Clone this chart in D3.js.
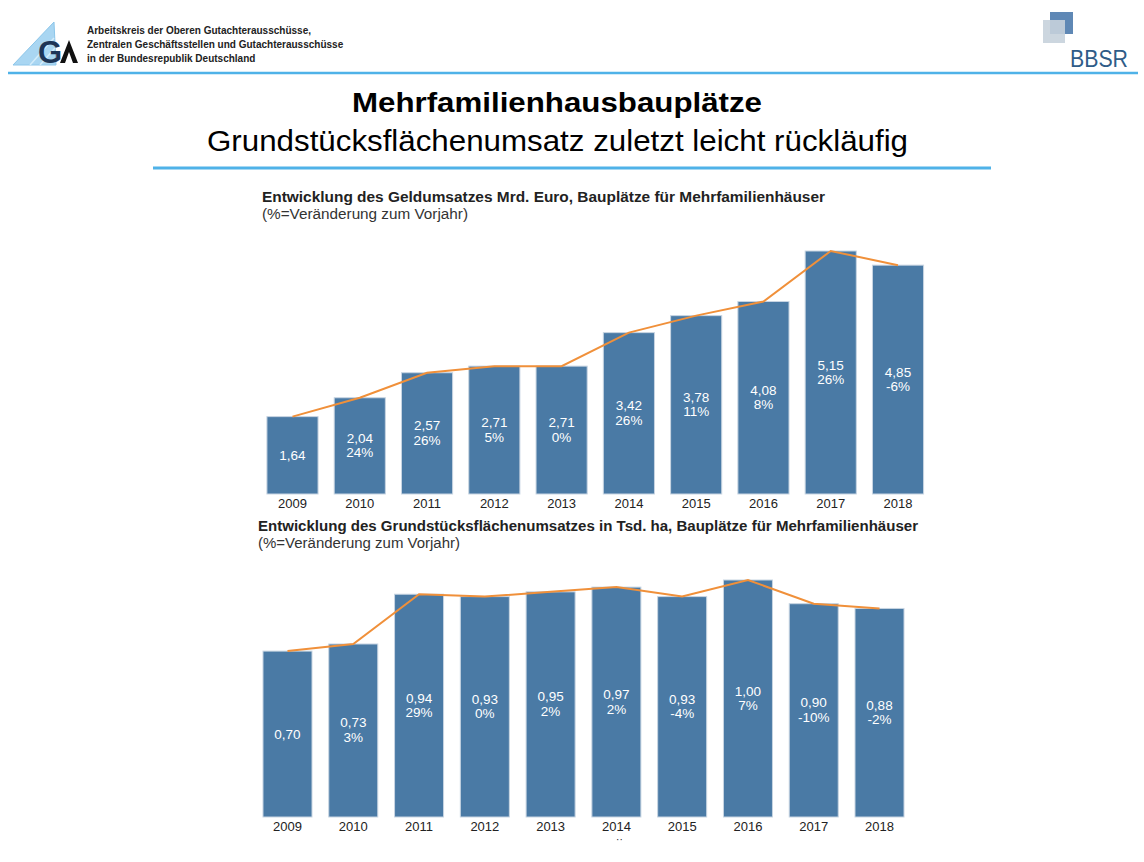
<!DOCTYPE html>
<meta charset="utf-8">
<script src="https://d3js.org/d3.v7.min.js"></script>
<style>
  body { margin: 0; background: #fff; }
  text { font-family: "Liberation Sans", Arial, sans-serif; }
</style>
<div id="chart"></div>
<script>

// data
var years = ["2009","2010","2011","2012","2013","2014","2015","2016","2017","2018"];
var geldValues = [1.64, 2.04, 2.57, 2.71, 2.71, 3.42, 3.78, 4.08, 5.15, 4.85];
var geldLabels = ["1,64","2,04","2,57","2,71","2,71","3,42","3,78","4,08","5,15","4,85"];
var geldPct = ["", "24%", "26%", "5%", "0%", "26%", "11%", "8%", "26%", "-6%"];
var flaecheValues = [0.70, 0.73, 0.94, 0.93, 0.95, 0.97, 0.93, 1.00, 0.90, 0.88];
var flaecheLabels = ["0,70","0,73","0,94","0,93","0,95","0,97","0,93","1,00","0,90","0,88"];
var flaechePct = ["", "3%", "29%", "0%", "2%", "2%", "-4%", "7%", "-10%", "-2%"];

var W = 1144, H = 862;
var barColor = "#4a7aa5", lineColor = "#f0903a", lightBlue = "#4fb2e8";

var svg = d3.select("#chart").append("svg")
  .attr("width", W).attr("height", H);

// ---- header ----
svg.append("line").attr("x1", 8).attr("x2", 1138).attr("y1", 73).attr("y2", 73)
  .attr("stroke", lightBlue).attr("stroke-width", 2.5);

// GA logo
svg.append("path").attr("d", "M13,65 L54,22 L56,65 Z").attr("fill", "#a9d6f2")
  .attr("stroke", "#8cc6ea").attr("stroke-width", 1);
svg.append("path").attr("d", "M30,65 L54,38 M40,65 L55,48").attr("stroke", "#d4ecfa").attr("stroke-width", 1.5);
svg.append("text").attr("x", 38).attr("y", 63).attr("font-size", 31).attr("font-weight", "bold")
  .attr("fill", "#1d3557").text("G");
svg.append("path").attr("d", "M60,63 L69,40 L78,63 L73,63 L69,52 L65,63 Z").attr("fill", "#111");

var gaLines = ["Arbeitskreis der Oberen Gutachterausschüsse,",
  "Zentralen Geschäftsstellen und Gutachterausschüsse",
  "in der Bundesrepublik Deutschland"];
svg.selectAll(".ga").data(gaLines).enter().append("text")
  .attr("x", 87).attr("y", function(d, i) { return 34 + i * 14; })
  .attr("font-size", 10).attr("font-weight", "bold").attr("fill", "#222")
  .attr("font-family", "'Open Sans', sans-serif")
  .text(function(d) { return d; });

// BBSR logo
svg.append("rect").attr("x", 1050).attr("y", 12).attr("width", 23).attr("height", 22).attr("fill", "#5f88b5");
svg.append("rect").attr("x", 1043).attr("y", 20).attr("width", 22).attr("height", 23).attr("fill", "#c7d1dc").attr("opacity", 0.9);
svg.append("text").attr("x", 1070).attr("y", 67).attr("font-size", 23).attr("fill", "#2f5c88")
  .attr("textLength", 58).attr("lengthAdjust", "spacingAndGlyphs")
  .attr("font-family", "'Open Sans', sans-serif").text("BBSR");

// ---- titles ----
svg.append("text").attr("x", 352).attr("y", 112)
  .attr("font-size", 28).attr("font-weight", "bold").attr("fill", "#000")
  .attr("textLength", 410).attr("lengthAdjust", "spacingAndGlyphs")
  .text("Mehrfamilienhausbauplätze");
svg.append("text").attr("x", 207).attr("y", 151)
  .attr("font-size", 29).attr("fill", "#000")
  .attr("textLength", 701).attr("lengthAdjust", "spacingAndGlyphs")
  .text("Grundstücksflächenumsatz zuletzt leicht rückläufig");
svg.append("line").attr("x1", 153).attr("x2", 991).attr("y1", 168).attr("y2", 168)
  .attr("stroke", lightBlue).attr("stroke-width", 3);

// draws one bar chart with line over bar tops
function drawPanel(opt) {
  var g = svg.append("g");

  g.append("text").attr("x", opt.titleX).attr("y", opt.titleY)
    .attr("font-size", 14).attr("font-weight", "bold").attr("fill", "#222")
    .attr("textLength", opt.titleLen).attr("lengthAdjust", "spacingAndGlyphs")
    .text(opt.title);
  g.append("text").attr("x", opt.titleX).attr("y", opt.titleY + 17)
    .attr("font-size", 14).attr("fill", "#333")
    .attr("textLength", opt.subLen).attr("lengthAdjust", "spacingAndGlyphs")
    .text("(%=Veränderung zum Vorjahr)");

  var x = d3.scaleBand().domain(years).range(opt.xRange)
    .paddingInner(opt.pad).paddingOuter(opt.pad / 2);
  var y = d3.scaleLinear().domain(opt.yDomain).range([opt.bottom, opt.top]);

  g.selectAll(".bar").data(opt.values).enter().append("rect")
    .attr("x", function(d, i) { return x(years[i]); })
    .attr("y", function(d) { return y(d); })
    .attr("width", x.bandwidth())
    .attr("height", function(d) { return y(0) - y(d); })
    .attr("fill", barColor)
    .attr("stroke", "#c8d5e2").attr("stroke-width", 1);

  g.append("path").datum(opt.values)
    .attr("fill", "none").attr("stroke", lineColor).attr("stroke-width", 2)
    .attr("d", d3.line()
      .x(function(d, i) { return x(years[i]) + x.bandwidth() / 2; })
      .y(function(d) { return y(d); }));

  // labels centred in bars
  opt.values.forEach(function(v, i) {
    var cx = x(years[i]) + x.bandwidth() / 2;
    var mid = (y(v) + y(0)) / 2;
    var two = opt.pct[i] !== "";
    var t = g.append("text").attr("text-anchor", "middle").attr("fill", "#fff")
      .attr("font-size", 13.5);
    t.append("tspan").attr("x", cx).attr("y", two ? mid - 3 : mid + 4.5).text(opt.labels[i]);
    if (two) t.append("tspan").attr("x", cx).attr("y", mid + 11.5).text(opt.pct[i]);
  });

  // x axis labels
  var ax = g.append("g").attr("transform", "translate(0," + opt.bottom + ")")
    .call(d3.axisBottom(x).tickSize(0).tickPadding(5));
  ax.select(".domain").remove();
  ax.selectAll("text").attr("font-size", 13).attr("fill", "#222")
    .attr("font-family", "'Liberation Sans', Arial, sans-serif");
  return x;
}

drawPanel({
  title: "Entwicklung des Geldumsatzes Mrd. Euro, Bauplätze für Mehrfamilienhäuser",
  titleX: 262, titleY: 202, titleLen: 563, subLen: 206,
  values: geldValues, labels: geldLabels, pct: geldPct,
  xRange: [258.85, 931.65], pad: 0.24,
  yDomain: [0, 5.15], top: 251, bottom: 494
});

var x2 = drawPanel({
  title: "Entwicklung des Grundstücksflächenumsatzes in Tsd. ha, Bauplätze für Mehrfamilienhäuser",
  titleX: 258, titleY: 531, titleLen: 660, subLen: 202,
  values: flaecheValues, labels: flaecheLabels, pct: flaechePct,
  xRange: [254.6, 912.4], pad: 0.255,
  yDomain: [0, 1.00], top: 580, bottom: 817
});

// small stray marks under 2014 on the slide
svg.append("text").attr("x", x2("2014") + x2.bandwidth() / 2 + 3).attr("y", 843)
  .attr("text-anchor", "middle").attr("font-size", 10).attr("fill", "#222").text("··");

</script>
